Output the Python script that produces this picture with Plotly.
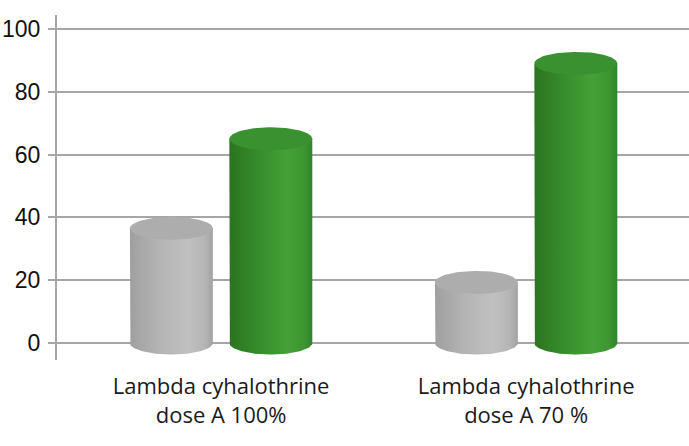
import numpy as np
import plotly.graph_objects as go

# ---- data ----
categories = ["Lambda cyhalothrine<br>dose A 100%", "Lambda cyhalothrine<br>dose A 70 %"]
series_names = ["Control", "Treatment"]
gray_values = [36.5, 19.3]
green_values = [65, 89]
y_ticks = [0, 20, 40, 60, 80, 100]

# ---- style ----
W, H = 689, 446
margin = dict(l=57, r=0, t=15, b=86)
y_range = [-5.4, 104.4]
x_range = [-0.538, 1.534]
bar_offset = 0.163
bar_width = 0.272
ell_px = 11.5  # half-height of ellipse in pixels
plot_h = H - margin["t"] - margin["b"]
ry = ell_px * (y_range[1] - y_range[0]) / plot_h

gray_style = dict(
    body=[[0, "#9f9f9f"], [0.35, "#b4b4b4"], [0.7, "#c0c0c0"], [0.9, "#b5b5b5"], [1, "#a3a3a3"]],
    top="#adadad",
)
green_style = dict(
    body=[[0, "#2b7420"], [0.3, "#35892a"], [0.7, "#44a136"], [0.9, "#3d9631"], [1, "#30842a"]],
    top="#3a912f",
)

fig = go.Figure()
t = np.linspace(0, np.pi, 60)

def add_cylinder(xc, val, style):
    rx = bar_width / 2
    bx = np.concatenate([[xc - rx, xc - rx], xc - rx * np.cos(t), [xc + rx, xc - rx]])
    by = np.concatenate([[val, 0], -ry * np.sin(t), [val, val]])
    fig.add_trace(go.Scatter(
        x=bx, y=by, mode="lines", line=dict(width=0), fill="toself",
        fillgradient=dict(type="horizontal", colorscale=style["body"]),
        hoverinfo="skip", showlegend=False))
    tt = np.linspace(0, 2 * np.pi, 120)
    fig.add_trace(go.Scatter(
        x=xc + rx * np.cos(tt), y=val + ry * np.sin(tt), mode="lines",
        line=dict(width=0), fill="toself", fillcolor=style["top"],
        hoverinfo="skip", showlegend=False))

for i in range(len(categories)):
    add_cylinder(i - bar_offset, gray_values[i], gray_style)
    add_cylinder(i + bar_offset, green_values[i], green_style)

axis_col = "#a6a6a6"
fig.update_layout(
    width=W, height=H, margin=margin,
    plot_bgcolor="white", paper_bgcolor="white",
    showlegend=False,
    xaxis=dict(range=x_range, tickmode="array", tickvals=list(range(len(categories))),
               ticktext=categories, showgrid=False, zeroline=False, showline=False,
               ticks="", tickfont=dict(family="Open Sans", size=22, color="#1a1a1a"),
               ticklabelstandoff=11, fixedrange=True, automargin=False),
    yaxis=dict(range=y_range, tickmode="array", tickvals=y_ticks,
               showgrid=True, gridcolor=axis_col, gridwidth=2,
               zeroline=True, zerolinecolor=axis_col, zerolinewidth=2,
               showline=True, linecolor=axis_col, linewidth=2,
               ticks="outside", ticklen=7, tickwidth=2, tickcolor=axis_col,
               tickfont=dict(family="Liberation Sans Narrow, Liberation Sans", size=23, color="#111111"),
               ticklabelstandoff=3, fixedrange=True, automargin=False),
)

fig.write_html("out.html", config={"displayModeBar": False},
               post_script="document.body.style.margin='0';")
